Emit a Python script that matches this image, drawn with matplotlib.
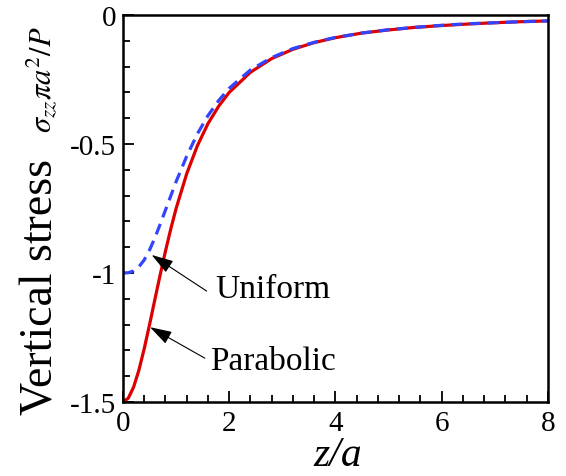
import matplotlib
matplotlib.use("Agg")
import matplotlib.pyplot as plt
from matplotlib.ticker import MultipleLocator

# values
z_parabolic = [0, 0.1, 0.2, 0.3, 0.4, 0.5, 0.6, 0.7, 0.8, 0.9, 1.0, 1.2, 1.4, 1.6, 1.8,
               2.0, 2.4, 2.8, 3.2, 3.6, 4.0, 4.5, 5.0, 5.5, 6.0, 6.5, 7.0, 7.5, 8.0]
stress_parabolic = [-1.5, -1.485, -1.442, -1.376, -1.293, -1.2, -1.103, -1.007, -0.915,
                    -0.829, -0.75, -0.615, -0.507, -0.421, -0.354, -0.3, -0.222, -0.169,
                    -0.133, -0.107, -0.088, -0.070, -0.058, -0.048, -0.041, -0.035,
                    -0.030, -0.026, -0.023]

z_uniform = [0, 0.1, 0.2, 0.3, 0.4, 0.5, 0.6, 0.7, 0.8, 0.9, 1.0, 1.2, 1.4, 1.6, 1.8,
             2.0, 2.4, 2.8, 3.2, 3.6, 4.0, 4.5, 5.0, 5.5, 6.0, 6.5, 7.0, 7.5, 8.0]
stress_uniform = [-1.0, -0.999, -0.992, -0.976, -0.949, -0.911, -0.864, -0.811, -0.756,
                  -0.701, -0.646, -0.547, -0.461, -0.390, -0.332, -0.284, -0.213, -0.165,
                  -0.130, -0.106, -0.087, -0.070, -0.057, -0.048, -0.040, -0.034,
                  -0.030, -0.026, -0.023]

x_ticks = [0, 2, 4, 6, 8]
y_ticks = [-1.5, -1, -0.5, 0]
y_tick_labels = ["-1.5", "-1", "-0.5", "0"]

plt.rcParams["font.family"] = ["Liberation Serif", "DejaVu Serif"]
plt.rcParams["mathtext.fontset"] = "stix"

fig = plt.figure(figsize=(5.66, 4.77), dpi=100)
ax = fig.add_axes([0.2173, 0.1551, 0.7507, 0.8114])

ax.plot(z_parabolic, stress_parabolic, color="#dd0000", lw=2.3, solid_capstyle="butt")
ax.plot(z_uniform, stress_uniform, color="#3344ff", lw=2.3, dashes=(3.5, 2.2))

ax.set_xlim(0, 8)
ax.set_ylim(-1.5, 0)
ax.set_xticks(x_ticks)
ax.set_xticklabels([str(t) for t in x_ticks])
ax.set_yticks(y_ticks)
ax.set_yticklabels(y_tick_labels)
ax.xaxis.set_minor_locator(MultipleLocator(0.4))
ax.yaxis.set_minor_locator(MultipleLocator(0.1))

ax.tick_params(which="both", direction="in", top=False, right=False, width=1.3)
ax.tick_params(which="major", length=8, labelsize=21)
ax.tick_params(which="minor", length=5)
ax.tick_params(axis="x", pad=6)
ax.tick_params(axis="y", pad=5)
for s in ax.spines.values():
    s.set_linewidth(1.8)

# labels
ax.text(-0.166, 0.30, "Vertical stress", transform=ax.transAxes, rotation=90,
        rotation_mode="anchor", ha="center", va="baseline", fontsize=33)
ax.text(-0.170, 0.835, r"$\sigma_{zz}\pi a^2/P$", transform=ax.transAxes, rotation=90,
        rotation_mode="anchor", ha="center", va="baseline", fontsize=22)
ax.text(0.505, -0.162, "z/a", transform=ax.transAxes, ha="center", va="baseline",
        fontsize=30, style="italic")

# arrows
arrow = dict(arrowstyle="-|>,head_length=0.9,head_width=0.28", color="black",
             lw=0.8, mutation_scale=15, shrinkA=0, shrinkB=0)
ax.annotate("", xy=(0.54, -0.93), xytext=(1.575, -1.07), arrowprops=arrow)
ax.annotate("", xy=(0.51, -1.21), xytext=(1.54, -1.33), arrowprops=arrow)
ax.text(1.73, -1.062, "Uniform", fontsize=24, va="center", ha="left")
ax.text(1.64, -1.34, "Parabolic", fontsize=24, va="center", ha="left")

fig.savefig("out.png", dpi=100)
